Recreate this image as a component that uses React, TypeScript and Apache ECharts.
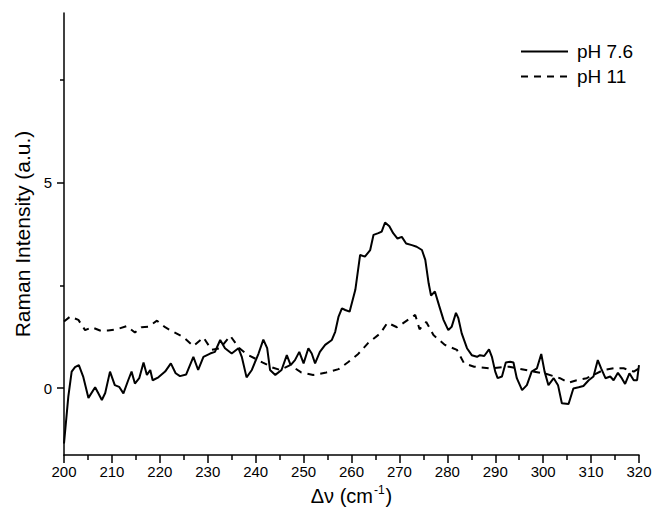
import React, { useEffect, useRef } from "react";
import * as echarts from "echarts";

// pH 7.6 (solid)
const waveSolid = [
  200.0, 200.9, 201.6, 202.3, 203.1, 204.0, 205.1, 206.5, 207.9, 208.6, 209.6, 210.6, 211.5, 212.4,
  213.4, 214.1, 214.8, 215.7, 216.6, 217.3, 218.0, 218.5, 219.7, 221.1, 222.3, 223.3, 224.2, 225.5,
  227.0, 228.0, 229.1, 230.5, 231.5, 232.6, 233.6, 235.0, 236.4, 237.1, 238.1, 239.2, 240.6, 241.6,
  242.4, 243.0, 244.1, 245.4, 246.5, 247.3, 248.2, 249.1, 250.0, 251.0, 251.7, 252.4, 253.4, 254.5,
  255.9, 256.6, 257.3, 258.0, 258.7, 259.6, 260.8, 261.8, 262.8, 263.9, 264.6, 265.6, 266.3, 267.0,
  267.9, 268.7, 269.6, 270.5, 271.4, 272.6, 273.6, 274.7, 275.4, 276.1, 276.6, 277.4, 278.3, 279.2,
  280.2, 280.9, 281.8, 282.3, 283.0, 284.1, 285.1, 286.2, 286.8, 287.7, 288.7, 289.3, 290.0, 290.5,
  291.4, 292.2, 293.1, 293.8, 294.5, 295.6, 296.6, 297.6, 298.7, 299.6, 300.3, 301.1, 302.2, 303.1,
  303.9, 305.3, 306.3, 307.4, 308.4, 309.5, 310.5, 311.4, 312.1, 313.0, 314.0, 314.7, 315.6, 316.4,
  317.1, 318.0, 318.9, 319.6, 320.0,
];
const intensitySolid = [
  -1.35, -0.21, 0.40, 0.51, 0.56, 0.28, -0.24, 0.02, -0.29, -0.12, 0.40, 0.07, 0.03, -0.13,
  0.19, 0.40, 0.11, 0.24, 0.62, 0.32, 0.44, 0.19, 0.26, 0.40, 0.60, 0.36, 0.29, 0.33,
  0.76, 0.44, 0.76, 0.84, 0.88, 1.17, 0.97, 0.84, 0.97, 0.76, 0.26, 0.44, 0.84, 1.18,
  0.97, 0.44, 0.32, 0.44, 0.80, 0.56, 0.68, 0.88, 0.60, 0.97, 0.84, 0.60, 0.88, 1.05,
  1.17, 1.37, 1.74, 1.94, 1.90, 1.86, 2.39, 3.24, 3.20, 3.36, 3.73, 3.77, 3.81, 4.03,
  3.94, 3.77, 3.64, 3.68, 3.52, 3.48, 3.44, 3.36, 3.12, 2.55, 2.25, 2.35, 2.0, 1.66,
  1.41, 1.49, 1.83, 1.70, 1.33, 0.97, 0.80, 0.76, 0.80, 0.78, 0.94, 0.76, 0.40, 0.24,
  0.28, 0.62, 0.64, 0.62, 0.24, -0.05, 0.07, 0.40, 0.48, 0.83, 0.40, 0.07, 0.24, 0.07,
  -0.37, -0.39, -0.01, 0.02, 0.05, 0.19, 0.28, 0.68, 0.48, 0.24, 0.28, 0.19, 0.37, 0.24,
  0.10, 0.36, 0.19, 0.19, 0.56,
];

// pH 11 (dashed)
const waveDashed = [
  200.0, 201.3, 203.0, 204.4, 205.8, 207.5, 209.2, 211.0, 213.1, 214.8, 216.2, 217.6, 219.4, 221.1,
  222.8, 224.9, 227.0, 229.1, 230.8, 232.6, 234.7, 236.5, 238.2, 241.5, 243.5, 245.1, 247.2, 249.5,
  252.0, 254.5, 257.3, 259.4, 261.4, 263.5, 266.0, 267.5, 269.5, 271.9, 273.3, 274.2, 275.6, 277.1,
  279.5, 282.0, 283.5, 285.6, 288.9, 292.9, 297.2, 300.5, 303.5, 305.3, 307.0, 309.1, 312.6, 314.7,
  316.8, 318.9, 320.0,
];
const intensityDashed = [
  1.62, 1.74, 1.66, 1.41, 1.48, 1.40, 1.40, 1.43, 1.51, 1.35, 1.48, 1.49, 1.64, 1.48,
  1.37, 1.24, 1.02, 1.23, 0.93, 0.97, 1.27, 0.98, 0.82, 0.62, 0.50, 0.44, 0.56, 0.38,
  0.32, 0.37, 0.46, 0.64, 0.83, 1.10, 1.33, 1.59, 1.48, 1.67, 1.78, 1.43, 1.61, 1.29,
  1.05, 0.93, 0.60, 0.52, 0.48, 0.52, 0.42, 0.35, 0.24, 0.13, 0.19, 0.24, 0.44, 0.48,
  0.48, 0.40, 0.48,
];

const seriesNames = ["pH 7.6", "pH 11"];
const xMin = 200;
const xMax = 320;
const yMin = -1.63;
const yMax = 9.13;
const yMajorTicks = [0, 5];
const yMinorTicks = [2.5, 7.5];

const FONT = "'Liberation Sans', Arial, Helvetica, sans-serif";

export default function App() {
  const ref = useRef<HTMLDivElement>(null);
  useEffect(() => {
    if (!ref.current) return;
    const chart = echarts.init(ref.current, undefined, { renderer: "svg" });
    const solid = waveSolid.map((x, i) => [x, intensitySolid[i]]);
    const dashed = waveDashed.map((x, i) => [x, intensityDashed[i]]);
    const axisColor = "#000";
    chart.setOption({
      animation: false,
      backgroundColor: "#fff",
      grid: { left: 64, right: 16, top: 13, bottom: 66 },
      legend: {
        orient: "vertical",
        left: 520,
        top: 42,
        padding: 0,
        itemWidth: 47,
        itemHeight: 16,
        itemGap: 6,
        data: seriesNames,
        itemStyle: { opacity: 0 },
        textStyle: { fontSize: 19, color: "#000", fontFamily: FONT, padding: [0, 0, 0, 4] },
      },
      xAxis: {
        type: "value",
        min: xMin,
        max: xMax,
        interval: 10,
        axisLine: { show: true, onZero: false, lineStyle: { color: axisColor, width: 1.5 } },
        axisTick: { show: true, length: 8, lineStyle: { color: axisColor, width: 1.5 } },
        minorTick: { show: true, splitNumber: 2, length: 5, lineStyle: { color: axisColor, width: 1.5 } },
        axisLabel: { color: "#000", fontSize: 15, fontFamily: FONT, margin: 9 },
        splitLine: { show: false },
        minorSplitLine: { show: false },
        name: "{a|Δν (cm}{s|-1}{a|)}",
        nameLocation: "middle",
        nameGap: 25,
        nameTextStyle: {
          rich: {
            a: { fontSize: 20, fontFamily: FONT, color: "#000", lineHeight: 24 },
            s: { fontSize: 12, fontFamily: FONT, color: "#000", lineHeight: 24, verticalAlign: "top", padding: [0, 1, 0, 1] },
          },
        },
      },
      yAxis: [
        {
          type: "value",
          min: yMin,
          max: yMax,
          position: "left",
          axisLine: { show: true, onZero: false, lineStyle: { color: axisColor, width: 1.5 } },
          axisTick: { show: true, length: 7, customValues: yMajorTicks, lineStyle: { color: axisColor, width: 1.5 } },
          axisLabel: { show: true, customValues: yMajorTicks, color: "#000", fontSize: 15, fontFamily: FONT, margin: 12 },
          splitLine: { show: false },
          name: "Raman Intensity (a.u.)",
          nameLocation: "middle",
          nameGap: 31,
          nameTextStyle: { fontSize: 21, fontFamily: FONT, color: "#000" },
        },
        {
          type: "value",
          min: yMin,
          max: yMax,
          position: "left",
          axisLine: { show: false },
          axisTick: { show: true, length: 4, customValues: yMinorTicks, lineStyle: { color: axisColor, width: 1.5 } },
          axisLabel: { show: false },
          splitLine: { show: false },
        },
      ],
      series: [
        {
          name: seriesNames[0],
          type: "line",
          data: solid,
          symbol: "none",
          yAxisIndex: 0,
          lineStyle: { color: "#000", width: 2, type: "solid" },
          itemStyle: { color: "#000" },
        },
        {
          name: seriesNames[1],
          type: "line",
          data: dashed,
          symbol: "none",
          yAxisIndex: 0,
          lineStyle: { color: "#000", width: 2, type: [7, 6] },
          itemStyle: { color: "#000" },
        },
      ],
    });
    return () => chart.dispose();
  }, []);
  return (
    <div
      ref={ref}
      style={{ position: "absolute", left: 0, top: 0, width: 655, height: 521, background: "#fff" }}
    />
  );
}
